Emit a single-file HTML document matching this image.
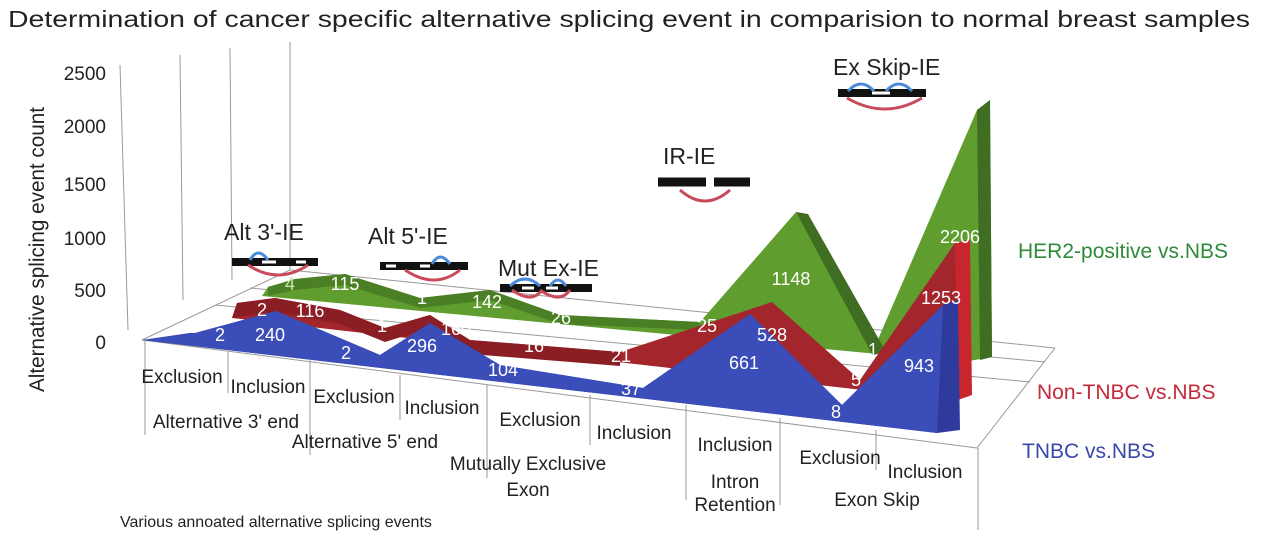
<!DOCTYPE html>
<html><head><meta charset="utf-8"><style>
body{margin:0;background:#fff;width:1262px;height:539px;overflow:hidden}
svg{display:block}
text{font-family:"Liberation Sans",Arial,sans-serif}
</style></head><body>
<svg width="1262" height="539" viewBox="0 0 1262 539" xmlns="http://www.w3.org/2000/svg">
<text x="8" y="27" font-size="23" fill="#222" textLength="1242" lengthAdjust="spacingAndGlyphs">Determination of cancer specific alternative splicing event in comparision to normal breast samples</text>
<text transform="translate(44,392) rotate(-90)" font-size="21" fill="#222" textLength="285" lengthAdjust="spacingAndGlyphs">Alternative splicing event count</text>
<g font-size="19" fill="#222" text-anchor="end">
<text x="106" y="80">2500</text><text x="106" y="133">2000</text><text x="106" y="191">1500</text>
<text x="106" y="245">1000</text><text x="106" y="297">500</text><text x="106" y="349">0</text>
</g>
<g stroke="#999" stroke-width="1" fill="none">
<line x1="120" y1="65" x2="128" y2="330"/>
<line x1="180" y1="55" x2="183" y2="300"/>
<line x1="230" y1="48" x2="232" y2="280"/>
<line x1="290" y1="42" x2="290" y2="270"/>
<line x1="142" y1="340" x2="290" y2="270"/>
<line x1="142" y1="340" x2="977" y2="448"/>
<line x1="290" y1="270" x2="1055" y2="348"/>
<line x1="977" y1="448" x2="1055" y2="348"/>
<line x1="215" y1="305" x2="1030" y2="382"/>
<line x1="250" y1="288" x2="1045" y2="362"/>
<line x1="145" y1="340" x2="145" y2="435"/>
<line x1="228" y1="352" x2="228" y2="393"/>
<line x1="310" y1="360" x2="310" y2="455"/>
<line x1="400" y1="375" x2="400" y2="420"/>
<line x1="487" y1="385" x2="487" y2="478"/>
<line x1="590" y1="395" x2="590" y2="445"/>
<line x1="686" y1="405" x2="686" y2="500"/>
<line x1="780" y1="418" x2="780" y2="505"/>
<line x1="876" y1="430" x2="876" y2="470"/>
<line x1="978" y1="448" x2="978" y2="530"/>
</g>
<!-- green area -->
<polygon points="268,287 295,279 345,274 420,298 490,290 560,315 700,322 796,212 873,351 977,110 990,100 992,357 963,362 262,296" fill="#5f9e2e"/>
<polygon points="268,287 295,279 345,274 420,298 490,290 560,315 700,322 700,330 560,324 490,300 420,308 345,285 295,290 268,296" fill="#4a7f25"/>
<polygon points="796,212 808,214 885,350 873,356" fill="#3f6e22"/>
<polygon points="977,110 990,100 992,357 980,360" fill="#3f6e22"/>
<!-- red area -->
<polygon points="237,303 275,298 340,310 385,328 430,315 470,340 620,352 772,302 860,380 955,243 970,240 970,395 950,400 232,318" fill="#a3262c"/>
<polygon points="237,303 275,298 340,310 385,328 430,315 470,340 620,352 620,366 470,354 430,328 385,342 340,324 275,312 232,318" fill="#8a1e24"/>
<polygon points="955,243 970,240 972,395 958,400" fill="#c8262e"/>
<!-- blue area -->
<polygon points="195,333 276,311 380,355 430,323 500,365 643,388 750,314 842,405 943,305 958,300 960,430 937,433 142,340 190,333" fill="#2e3a9c"/>
<polygon points="276,311 380,355 430,323 500,365 643,388 750,314 842,405 943,305 937,433 142,340 195,333" fill="#3b4db8"/>
<g font-size="18" fill="#fff" text-anchor="middle">
<text x="290" y="290" fill="#cde5b4">4</text><text x="345" y="290">115</text><text x="422" y="304">1</text>
<text x="487" y="308">142</text><text x="561" y="324">26</text><text x="707" y="332">25</text>
<text x="791" y="285">1148</text><text x="873" y="356">1</text><text x="960" y="243">2206</text>
<text x="262" y="316">2</text><text x="310" y="317">116</text><text x="382" y="332">1</text>
<text x="456" y="335">160</text><text x="534" y="352">16</text><text x="621" y="362">21</text>
<text x="772" y="341">528</text><text x="856" y="386">5</text><text x="941" y="304">1253</text>
<text x="220" y="341">2</text><text x="270" y="341">240</text><text x="346" y="359">2</text>
<text x="422" y="352">296</text><text x="503" y="376">104</text><text x="631" y="395">37</text>
<text x="744" y="369">661</text><text x="836" y="418">8</text><text x="919" y="372">943</text>
</g>
<g font-size="19" fill="#222" text-anchor="middle">
<text x="182" y="383">Exclusion</text><text x="268" y="393">Inclusion</text>
<text x="226" y="428">Alternative 3' end</text>
<text x="354" y="403">Exclusion</text><text x="442" y="414">Inclusion</text>
<text x="365" y="448">Alternative 5' end</text>
<text x="540" y="426">Exclusion</text><text x="634" y="439">Inclusion</text>
<text x="528" y="470">Mutually Exclusive</text><text x="528" y="496">Exon</text>
<text x="735" y="451">Inclusion</text><text x="735" y="488">Intron</text><text x="735" y="511">Retention</text>
<text x="840" y="464">Exclusion</text><text x="925" y="478">Inclusion</text>
<text x="877" y="506">Exon Skip</text>
</g>
<text x="120" y="527" font-size="16" fill="#222">Various annoated alternative splicing events</text>
<text x="1018" y="258" font-size="21" fill="#2f8a3a">HER2-positive vs.NBS</text>
<text x="1037" y="399" font-size="21" fill="#c42a3a">Non-TNBC vs.NBS</text>
<text x="1022" y="458" font-size="21" fill="#3a48a8">TNBC vs.NBS</text>
<g font-size="23" fill="#222">
<text x="224" y="240">Alt 3'-IE</text><text x="368" y="244">Alt 5'-IE</text>
<text x="498" y="276">Mut Ex-IE</text><text x="663" y="164">IR-IE</text><text x="833" y="75">Ex Skip-IE</text>
</g>
<g stroke-width="3" fill="none">
<path d="M232,262 h86" stroke="#111" stroke-width="8"/>
<path d="M262,262 h14 M296,262 h10" stroke="#fff" stroke-width="3"/>
<path d="M248,265 q30,20 60,0" stroke="#c94a5a"/>
<path d="M250,260 q8,-14 18,0" stroke="#4a8ad8"/>
<path d="M380,266 h88" stroke="#111" stroke-width="8"/>
<path d="M386,266 h10 M420,266 h10" stroke="#fff" stroke-width="3"/>
<path d="M405,270 q30,20 55,0" stroke="#c94a5a"/>
<path d="M432,264 q8,-14 18,0" stroke="#4a8ad8"/>
<path d="M500,288 h92" stroke="#111" stroke-width="8"/>
<path d="M522,288 h12 M546,288 h12" stroke="#fff" stroke-width="3"/>
<path d="M512,290 q20,14 30,0 M540,290 q20,14 30,0" stroke="#c94a5a"/>
<path d="M510,286 q15,-14 30,0 M550,286 q8,-12 16,0" stroke="#4a8ad8"/>
<path d="M658,182 h48 M714,182 h36" stroke="#111" stroke-width="9"/>
<path d="M680,190 q25,22 50,0" stroke="#c94a5a"/>
<path d="M838,93 h88" stroke="#111" stroke-width="8"/>
<path d="M872,93 h18" stroke="#fff" stroke-width="3"/>
<path d="M847,98 q38,22 75,0" stroke="#c94a5a"/>
<path d="M848,91 q13,-14 26,0 M886,91 q13,-14 26,0" stroke="#4a8ad8"/>
</g>
</svg>
</body></html>
